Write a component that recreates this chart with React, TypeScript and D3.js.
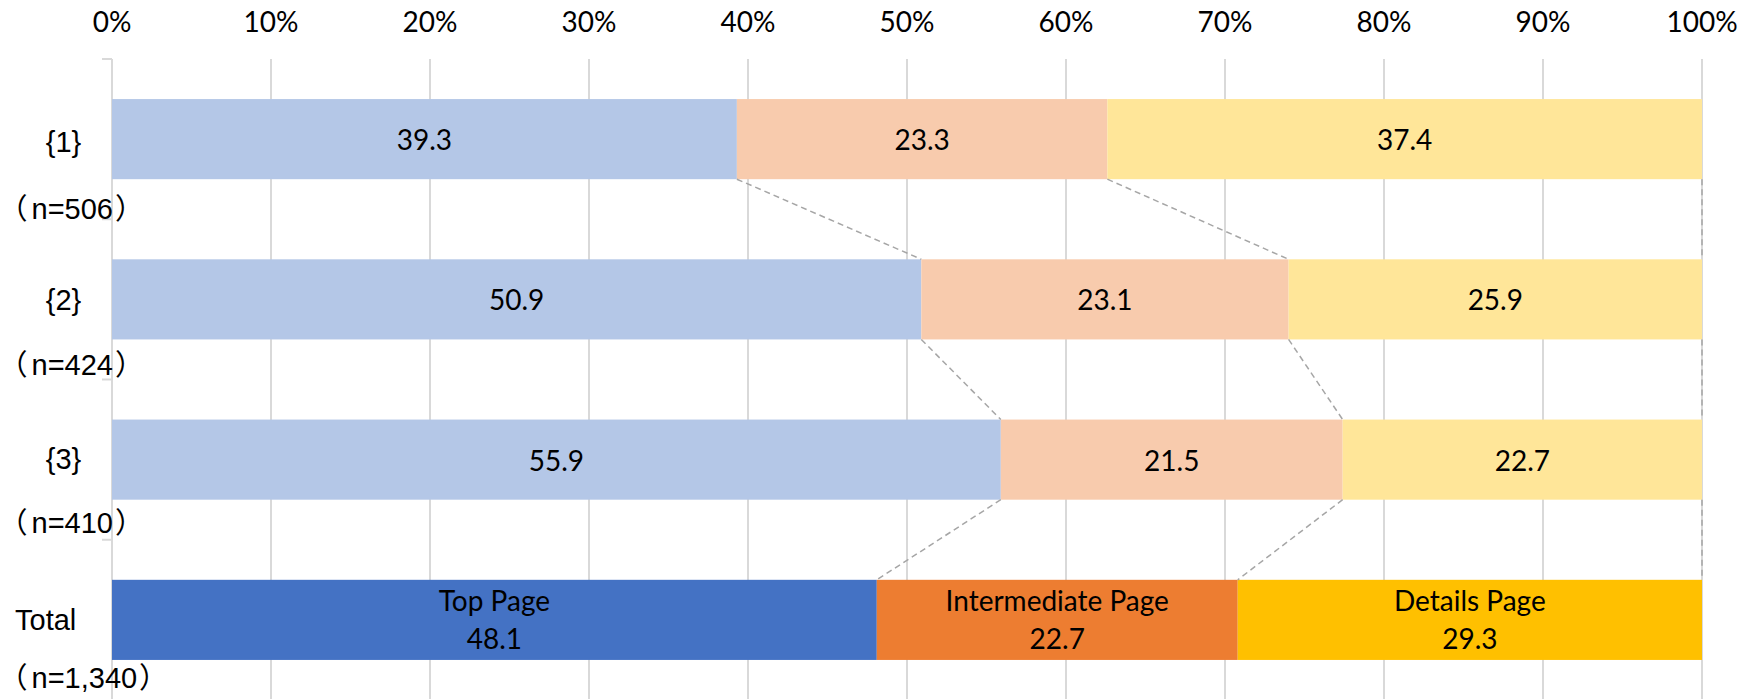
import React from "react";
import * as d3 from "d3";

const categories = ["{1}", "{2}", "{3}", "Total"];
const sampleCounts = ["n=506", "n=424", "n=410", "n=1,340"];
const seriesNames = ["Top Page", "Intermediate Page", "Details Page"];
const topPage = [39.3, 50.9, 55.9, 48.1];
const intermediatePage = [23.3, 23.1, 21.5, 22.7];
const detailsPage = [37.4, 25.9, 22.7, 29.3];
const tickValues = [0, 10, 20, 30, 40, 50, 60, 70, 80, 90, 100];

const lightColors = ["#b4c7e7", "#f8cbad", "#ffe699"];
const darkColors = ["#4472c4", "#ed7d31", "#ffc000"];

const W = 1749;
const H = 699;

export default function App() {
  const x = d3.scaleLinear().domain([0, 100]).range([112, 1702]);
  const y = d3
    .scaleBand<string>()
    .domain(categories)
    .range([59, 700])
    .paddingInner(0.5)
    .paddingOuter(0.25);
  const bw = y.bandwidth();
  const step = y.step();

  const series = [topPage, intermediatePage, detailsPage];
  const rows = categories.map((c, i) => {
    let cum = 0;
    const segs = series.map((s, k) => {
      const start = cum;
      cum += s[i];
      return { k, start, end: k === series.length - 1 ? 100 : cum, value: s[i] };
    });
    return { c, i, segs };
  });

  const numFont = "Lato, 'Noto Sans', sans-serif";
  const catFont = "'Liberation Sans', 'Noto Sans CJK JP', sans-serif";
  const boundaries = d3.range(categories.length + 1).map((j) => 59 + j * step);
  const line1Off = [3, 1, -1, 0];
  const line2Off = [70, 66, 63, 58];

  return (
    <svg
      width={W}
      height={H}
      style={{ position: "absolute", left: 0, top: 0, background: "#fff" }}
    >
      <rect x={0} y={0} width={W} height={H} fill="#fff" />
      {tickValues.map((t) => (
        <line
          key={"g" + t}
          x1={x(t)}
          x2={x(t)}
          y1={59}
          y2={H}
          stroke="#d9d9d9"
          strokeWidth={2}
        />
      ))}
      {boundaries.map((b, j) => (
        <line
          key={"b" + j}
          x1={102}
          x2={112}
          y1={b}
          y2={b}
          stroke="#d9d9d9"
          strokeWidth={2}
        />
      ))}
      {tickValues.map((t) => (
        <text
          key={"t" + t}
          x={x(t)}
          y={21}
          textAnchor="middle"
          dominantBaseline="central"
          fontFamily={numFont}
          fontSize={28}
          fill="#000"
        >
          {t + "%"}
        </text>
      ))}
      {rows.map((r) => {
        const y0 = y(r.c)!;
        const isTotal = r.i === categories.length - 1;
        return (
          <g key={r.c}>
            {r.segs.map((s) => {
              const cx = (x(s.start) + x(s.end)) / 2;
              const cy = y0 + bw / 2;
              return (
                <g key={s.k}>
                  <rect
                    x={x(s.start)}
                    y={y0}
                    width={x(s.end) - x(s.start)}
                    height={bw}
                    fill={isTotal ? darkColors[s.k] : lightColors[s.k]}
                  />
                  {isTotal ? (
                    <>
                      <text
                        x={cx}
                        y={cy - 20}
                        textAnchor="middle"
                        dominantBaseline="central"
                        fontFamily={numFont}
                        fontSize={28}
                        fill="#000"
                      >
                        {seriesNames[s.k]}
                      </text>
                      <text
                        x={cx}
                        y={cy + 18}
                        textAnchor="middle"
                        dominantBaseline="central"
                        fontFamily={numFont}
                        fontSize={28}
                        fill="#000"
                      >
                        {s.value.toFixed(1)}
                      </text>
                    </>
                  ) : (
                    <text
                      x={cx}
                      y={cy}
                      textAnchor="middle"
                      dominantBaseline="central"
                      fontFamily={numFont}
                      fontSize={28}
                      fill="#000"
                    >
                      {s.value.toFixed(1)}
                    </text>
                  )}
                </g>
              );
            })}
          </g>
        );
      })}
      {rows.slice(0, -1).map((r, i) => {
        const next = rows[i + 1];
        const yb = y(r.c)! + bw;
        const yt = y(next.c)!;
        return r.segs.map((s, k) => (
          <line
            key={"c" + i + "-" + k}
            x1={x(s.end)}
            y1={yb}
            x2={x(next.segs[k].end)}
            y2={yt}
            stroke="#a6a6a6"
            strokeWidth={1.5}
            strokeDasharray="6,4"
          />
        ));
      })}
      {rows.map((r) => {
        const cy = y(r.c)! + bw / 2;
        const isTotal = r.i === categories.length - 1;
        return (
          <g key={"l" + r.c}>
            <text
              x={isTotal ? 15 : 63.5}
              y={cy + line1Off[r.i]}
              textAnchor={isTotal ? "start" : "middle"}
              dominantBaseline="central"
              fontFamily={catFont}
              fontSize={29}
              fill="#000"
            >
              {r.c}
            </text>
            <text
              x={12}
              y={cy + line2Off[r.i]}
              textAnchor="start"
              dominantBaseline="central"
              fontFamily={catFont}
              fontSize={29}
              fill="#000"
              style={{ fontFeatureSettings: '"palt"' }}
            >
              <tspan>（</tspan>
              <tspan dx={5}>{sampleCounts[r.i]}</tspan>
              <tspan dx={3}>）</tspan>
            </text>
          </g>
        );
      })}
    </svg>
  );
}
